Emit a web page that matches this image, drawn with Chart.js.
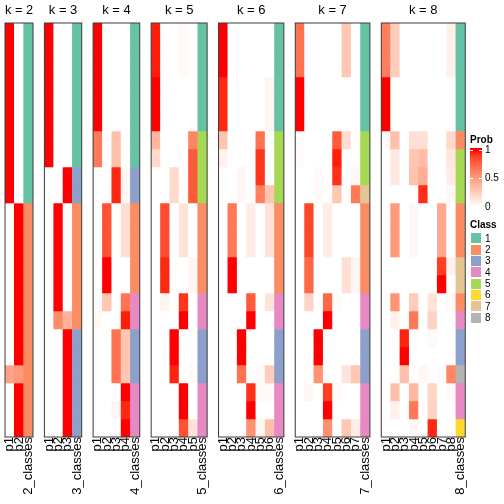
<!DOCTYPE html>
<html><head><meta charset="utf-8">
<script src="https://cdn.jsdelivr.net/npm/chart.js@4.4.1/dist/chart.umd.min.js"></script>
<style>
html,body{margin:0;padding:0;background:#fff;}
#wrap{position:relative;width:504px;height:504px;overflow:hidden;font-family:"Liberation Sans",Arial,sans-serif;background:#fff;}
#wrap canvas{position:absolute;top:0;}
.lg{position:absolute;font-size:10px;line-height:12px;color:#000;white-space:nowrap;}
.sw{position:absolute;}
</style></head><body><div id="wrap"></div>
<script>
const panelKs = [2,3,4,5,6,7,8];
const classColors = ['#66C2A5','#FC8D62','#8DA0CB','#E78AC3','#A6D854','#FFD92F','#E5C494','#B3B3B3'];
const classLabels = ['1','2','3','4','5','6','7','8'];
const probTicks = [1, 0.5, 0];

const probK2 = [[1,0],[1,0],[1,0],[1,0],[1,0],[1,0],[1,0],[1,0],[1,0],[1,0],
 [0,1],[0,1],[0,1],[0,1],[0,1],[0,1],[0,1],[0,1],[0,1],[0.48,0.52],[0,1],[0,1],[0,1]];
const classK2 = [1,1,1,1,1,1,1,1,1,1,2,2,2,2,2,2,2,2,2,2,2,2,2];

const probK3 = [[1,0,0],[1,0,0],[1,0,0],[1,0,0],[1,0,0],[1,0,0],[1,0,0],[1,0,0],
 [0,0,1],[0,0,1],[0,1,0],[0,1,0],[0,1,0],[0,1,0],[0,1,0],[0,1,0],[0,0.6,0.4],
 [0,0,1],[0,0,1],[0,0,1],[0,0,1],[0,0,1],[0,0,1]];
const classK3 = [1,1,1,1,1,1,1,1,3,3,2,2,2,2,2,2,2,3,3,3,3,3,3];

const probK4 = [[1,0,0,0],[1,0,0,0],[1,0,0,0],[1,0,0,0],[1,0,0,0],[1,0,0,0],
 [0.67,0,0.33,0],[0.67,0,0.33,0],[0,0,0.95,0.05],[0,0,0.95,0.05],
 [0,0.83,0,0.17],[0,0.83,0,0.17],[0,0.83,0,0.17],[0,1,0,0],[0,1,0,0],
 [0,0.3,0,0.7],[0.03,0,0,0.97],[0,0,0.7,0.3],[0,0,0.7,0.3],[0,0,0.7,0.3],
 [0,0,0,1],[0,0,0.05,0.95],[0,0,0,1]];
const classK4 = [1,1,1,1,1,1,1,1,3,3,2,2,2,2,2,4,4,3,3,3,4,4,4];

const probK5 = [[0.97,0,0,0.03,0],[0.97,0,0,0.03,0],[0.97,0,0,0.03,0],[1,0,0,0,0],[1,0,0,0,0],[1,0,0,0,0],
 [0.38,0,0,0,0.62],[0.2,0,0,0,0.8],[0,0,0.2,0,0.8],[0,0,0.2,0,0.8],
 [0,0.85,0,0.15,0],[0,0.85,0,0.15,0],[0,0.85,0,0.15,0],[0,0.95,0,0,0.05],[0,0.95,0,0,0.05],
 [0,0.06,0,0.92,0],[0,0,0,1,0],[0,0,1,0,0],[0,0,1,0,0],[0,0,0.96,0,0.03],
 [0,0,0,1,0],[0,0,0,1,0],[0,0,0,0.83,0.15]];
const classK5 = [1,1,1,1,1,1,5,5,5,5,2,2,2,2,2,4,4,3,3,3,4,4,4];

const probK6 = [[1,0,0,0,0,0],[1,0,0,0,0,0],[1,0,0,0,0,0],
 [0.95,0,0,0,0,0.05],[0.95,0,0,0,0,0.05],[0.95,0,0,0,0,0.05],
 [0.3,0,0,0,0.7,0],[0.07,0,0,0,0.92,0],[0,0,0.05,0,0.92,0],[0,0,0.04,0,0.64,0.3],
 [0,0.68,0,0.1,0,0.15],[0,0.68,0,0.1,0,0.15],[0,0.68,0,0.1,0,0.15],[0,1,0,0,0,0],[0,1,0,0,0,0],
 [0,0,0,0.8,0,0.15],[0,0,0,1,0,0],[0,0,1,0,0,0],[0,0,1,0,0,0],[0,0,0.7,0,0.03,0.27],
 [0,0,0,0.93,0.03,0.03],[0,0,0,1,0,0],[0,0,0,0.56,0.05,0.33]];
const classK6 = [1,1,1,1,1,1,5,5,5,5,2,2,2,2,2,4,4,3,3,3,4,4,4];

const probK7 = [[0.7,0,0,0,0,0.3,0],[0.7,0,0,0,0,0.3,0],[0.7,0,0,0,0,0.3,0],
 [1,0,0,0,0,0,0],[1,0,0,0,0,0,0],[1,0,0,0,0,0,0],
 [0.02,0,0,0,0.8,0.18,0],[0.02,0,0,0,0.97,0,0],[0,0,0.03,0,0.93,0,0.04],[0,0,0.03,0,0.3,0,0.67],
 [0,0.87,0,0.1,0,0,0],[0,0.87,0,0.1,0,0,0],[0,0.87,0,0.1,0,0,0],
 [0,0.75,0,0,0,0.17,0.05],[0,0.75,0,0,0,0.17,0.05],
 [0,0.22,0,0.75,0.02,0,0],[0,0,0,1,0,0,0],[0,0,1,0,0,0,0],[0,0,1,0,0,0,0],[0,0,0.55,0,0,0.14,0.3],
 [0,0.04,0,0.9,0.03,0,0],[0,0,0,1,0,0,0],[0,0,0,0.57,0,0.3,0.1]];
const classK7 = [1,1,1,1,1,1,5,5,5,7,2,2,2,2,2,4,4,3,3,3,4,4,4];

const probK8 = [[0.65,0.27,0,0,0,0,0,0.08],[0.65,0.27,0,0,0,0,0,0.08],[0.65,0.27,0,0,0,0,0,0.08],
 [1,0,0,0,0,0,0,0],[1,0,0,0,0,0,0,0],[1,0,0,0,0,0,0,0],
 [0.03,0.33,0,0.17,0.17,0,0,0.2],[0,0.12,0,0.3,0.35,0,0,0.13],[0,0.12,0,0.32,0.42,0,0,0.1],[0,0,0,0,0.94,0,0,0.04],
 [0,0.52,0,0.04,0,0,0.44,0],[0,0.52,0,0.04,0,0,0.44,0],[0,0.52,0,0.04,0,0,0.44,0],
 [0,0,0,0,0,0,0.9,0.08],[0,0,0,0,0,0,1,0],
 [0,0.55,0,0.27,0,0.15,0,0.03],[0,0.08,0,0.68,0,0.23,0,0],
 [0,0,0.96,0,0,0.03,0,0],[0,0,1,0,0,0,0,0],[0,0,0.33,0,0.04,0,0,0.62],
 [0,0.33,0,0.37,0,0.22,0,0.03],[0,0.08,0,0.68,0,0.23,0,0],[0,0,0,0.04,0,0.95,0,0]];
const classK8 = [1,1,1,1,1,1,2,5,5,5,2,2,2,7,7,2,4,3,3,8,4,4,6];

const probs = {2:probK2,3:probK3,4:probK4,5:probK5,6:probK6,7:probK7,8:probK8};
const classes = {2:classK2,3:classK3,4:classK4,5:classK5,6:classK6,7:classK7,8:classK8};

// ---- white -> red colour ramp in LAB space ----
function toLin(c){c/=255;return c<=0.04045?c/12.92:Math.pow((c+0.055)/1.055,2.4);}
function toSrgb(c){c=Math.max(0,Math.min(1,c));return Math.round(255*(c<=0.0031308?12.92*c:1.055*Math.pow(c,1/2.4)-0.055));}
function rgb2lab(rgb){
  const r=toLin(rgb[0]),g=toLin(rgb[1]),b=toLin(rgb[2]);
  const X=(0.4124*r+0.3576*g+0.1805*b)/0.95047,Y=0.2126*r+0.7152*g+0.0722*b,Z=(0.0193*r+0.1192*g+0.9505*b)/1.08883;
  const f=t=>t>0.008856?Math.cbrt(t):7.787*t+16/116;
  const fx=f(X),fy=f(Y),fz=f(Z);
  return [116*fy-16,500*(fx-fy),200*(fy-fz)];
}
function lab2rgb(lab){
  const fy=(lab[0]+16)/116,fx=fy+lab[1]/500,fz=fy-lab[2]/200;
  const fi=t=>{const t3=t*t*t;return t3>0.008856?t3:(t-16/116)/7.787;};
  const X=fi(fx)*0.95047,Y=fi(fy),Z=fi(fz)*1.08883;
  const r=3.2406*X-1.5372*Y-0.4986*Z,g=-0.9689*X+1.8758*Y+0.0415*Z,b=0.0557*X-0.2040*Y+1.0570*Z;
  return [toSrgb(r),toSrgb(g),toSrgb(b)];
}
const LAB0=rgb2lab([255,255,255]), LAB1=rgb2lab([255,0,0]);
function probColor(v){
  v=Math.max(0,Math.min(1,v));
  const c=lab2rgb([0,1,2].map(i=>LAB0[i]+(LAB1[i]-LAB0[i])*v));
  return 'rgb('+c[0]+','+c[1]+','+c[2]+')';
}

// ---- layout constants ----
const FONT = '"Liberation Sans", Arial, sans-serif';
const COL_W = 9.33, GAP = 11.4, LEFT0 = 5, TOP = 23, ROW_H = 18, CANVAS_H = 504, SIDE_PAD = 18;
const wrap = document.getElementById('wrap');

const framePlugin = {
  id:'frame',
  afterDraw(chart){
    const {ctx, chartArea:a} = chart;
    ctx.save(); ctx.strokeStyle='#3a3a3a'; ctx.lineWidth=1;
    ctx.strokeRect(a.left, a.top, a.right-a.left, a.bottom-a.top);
    ctx.restore();
  }
};

let L = LEFT0;
panelKs.forEach(k => {
  const P = probs[k], C = classes[k], nRows = P.length;
  const labels = [];
  for (let j=1;j<=k;j++) labels.push('p'+j);
  labels.push(k+'_classes');
  const pw = labels.length*COL_W;
  const padLwant = SIDE_PAD + COL_W;
  const cl = Math.floor(L - padLwant);
  const padL = L - cl;
  const cw = Math.ceil(padL + pw + SIDE_PAD);
  const padR = cw - padL - pw;
  const datasets = P.map((row, r) => ({
    data: labels.map(() => [r, r+1]),
    backgroundColor: labels.map((_, c) => c < k ? probColor(row[c]) : classColors[C[r]-1]),
    borderWidth: 0, grouped: false, barPercentage: 1, categoryPercentage: 1
  }));
  const cv = document.createElement('canvas');
  cv.width = cw; cv.height = CANVAS_H;
  cv.style.left = cl+'px'; cv.style.width = cw+'px'; cv.style.height = CANVAS_H+'px';
  wrap.appendChild(cv);
  new Chart(cv, {
    type:'bar',
    data:{labels, datasets},
    options:{
      responsive:false, animation:false, devicePixelRatio:1,
      layout:{padding:{left:padL, right:padR, top:0, bottom:0}},
      plugins:{
        legend:{display:false}, tooltip:{enabled:false},
        title:{display:true, text:'k = '+k, color:'#000', font:{family:FONT, size:13, weight:'normal'}, padding:{top:2.7, bottom:4.7}}
      },
      scales:{
        x:{type:'category', offset:true, grid:{display:false, drawTicks:false}, border:{display:false},
           ticks:{autoSkip:false, maxRotation:90, minRotation:90, padding:0, color:'#000', font:{family:FONT, size:13}},
           afterFit(s){ s.height = CANVAS_H - (TOP + nRows*ROW_H); }},
        y:{type:'linear', min:0, max:nRows, reverse:true, display:false, stacked:false}
      }
    },
    plugins:[framePlugin]
  });
  L += pw + GAP;
});

// ---- legends ----
function addText(txt, x, y, bold){
  const d=document.createElement('div'); d.className='lg'; d.textContent=txt;
  d.style.left=x+'px'; d.style.top=y+'px'; if(bold) d.style.fontWeight='bold';
  wrap.appendChild(d); return d;
}
function addBox(x,y,w,h,bg){
  const d=document.createElement('div'); d.className='sw';
  d.style.left=x+'px'; d.style.top=y+'px'; d.style.width=w+'px'; d.style.height=h+'px'; d.style.background=bg;
  wrap.appendChild(d); return d;
}
addText('Prob', 470, 134, true);
const barTop=148, barH=60, y1=150.7, y0=207;
const stops=[];
for(let i=0;i<=20;i++){const v=i/20; const pos=(y0 - v*(y0-y1) - barTop)/barH*100; stops.push(probColor(v)+' '+pos.toFixed(2)+'%');}
stops.reverse();
addBox(470, barTop, 12, barH, 'linear-gradient(to bottom, '+probColor(1)+' 0%, '+stops.join(', ')+', '+probColor(0)+' 100%)');
probTicks.forEach(v=>{
  const y = y0 - v*(y0-y1);
  if (v>0) { addBox(470, y-0.5, 3, 1, '#fff'); addBox(479, y-0.5, 3, 1, '#fff'); }
  addText(String(v), 485, y-6.5, false);
});
addText('Class', 470, 219, true);
classLabels.forEach((lab,i)=>{
  const y = 233.3 + i*11.33;
  addBox(471, y, 9.5, 10, classColors[i]);
  addText(lab, 485, y-0.5, false);
});
</script></body></html>
